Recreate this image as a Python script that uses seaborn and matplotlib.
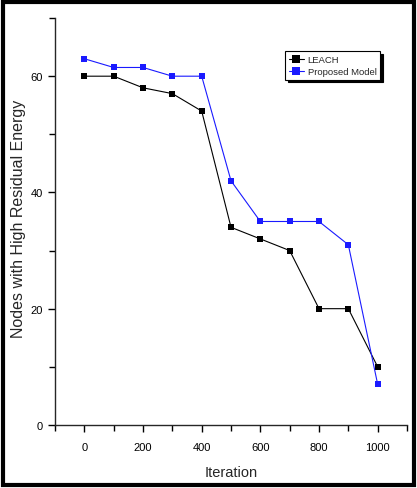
import pandas as pd
import numpy as np
import matplotlib
matplotlib.use("Agg")
import matplotlib.pyplot as plt
import seaborn as sns
from matplotlib.patches import Rectangle
from matplotlib.ticker import MultipleLocator

# DATOS
iteration = [0, 100, 200, 300, 400, 500, 600, 700, 800, 900, 1000]
leach = [60, 60, 58, 57, 54, 34, 32, 30, 20, 20, 10]
proposed = [63, 61.5, 61.5, 60, 60, 42, 35, 35, 35, 31, 7]
series_names = ["LEACH", "Proposed Model"]

df = pd.DataFrame({
    "Iteration": iteration * 2,
    "Nodes": leach + proposed,
    "Model": [series_names[0]] * len(iteration) + [series_names[1]] * len(iteration),
})

sns.set_style("ticks")
plt.rcParams["font.family"] = ["Liberation Sans Narrow", "Liberation Sans", "DejaVu Sans"]

fig = plt.figure(figsize=(4.17, 4.89), dpi=100)
ax = fig.add_axes([0.132, 0.129, 0.844, 0.832])

sns.lineplot(data=df, x="Iteration", y="Nodes", hue="Model", style="Model",
             markers=["s", "s"], dashes=False,
             palette=["black", "#1a1aff"], linewidth=0.8, markersize=5,
             markeredgewidth=0, ax=ax)

ax.set_xlim(-100, 1100)
ax.set_ylim(0, 70)
ax.set_xticks([0, 200, 400, 600, 800, 1000])
ax.set_yticks([0, 20, 40, 60])
ax.xaxis.set_minor_locator(MultipleLocator(100))
ax.yaxis.set_minor_locator(MultipleLocator(10))
ax.tick_params(which="both", direction="out", width=1, labelsize=8, colors="black")
ax.tick_params(which="major", length=5)
ax.tick_params(which="minor", length=4)
ax.tick_params(axis="x", pad=7)
sns.despine(ax=ax)
for s in ["left", "bottom"]:
    ax.spines[s].set_linewidth(1)

ax.set_xlabel("Iteration", fontsize=10.5)
ax.xaxis.set_label_coords(0.5, -0.098)
ax.set_ylabel("Nodes with High Residual Energy", fontsize=11.5,
              family=["Liberation Sans", "DejaVu Sans"])
ax.yaxis.set_label_coords(-0.083, 0.51)

leg = ax.legend(loc="upper left", bbox_to_anchor=(0.64, 0.93), fontsize=6.8,
                frameon=True, fancybox=False, shadow={"color": "black", "alpha": 1},
                handlelength=1.6, borderpad=0.4, labelspacing=0.3, handletextpad=0.4,
                markerscale=1.2)
leg.get_frame().set_edgecolor("black")
leg.get_frame().set_linewidth(0.8)

# marco exterior
fig.patches.append(Rectangle((0.008, 0.006), 0.984, 0.988, transform=fig.transFigure,
                             fill=False, edgecolor="black", linewidth=3))

fig.savefig("out.png", dpi=100)
